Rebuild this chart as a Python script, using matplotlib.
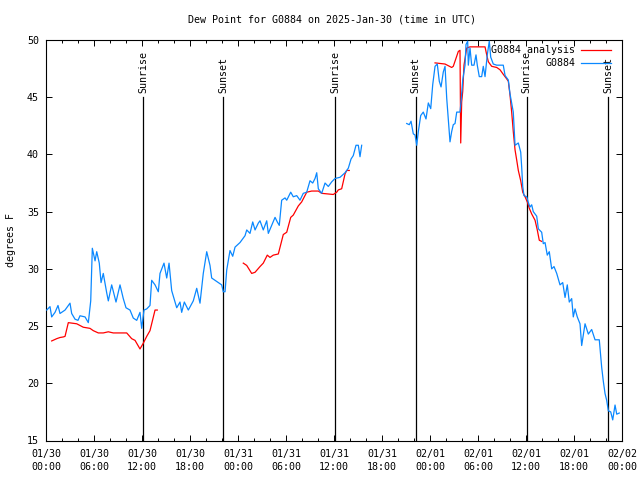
import numpy as np
import matplotlib
matplotlib.use("Agg")
import matplotlib.pyplot as plt
from matplotlib.ticker import MultipleLocator

nan = np.nan

# hours since 2025-01-30 00:00 UTC, dew point (F)
obs_hours = [
    0.09, 0.5, 0.71, 1.13, 1.5, 1.75, 2.38, 3.0, 3.21, 3.63, 4.0, 4.25, 4.88, 5.29, 5.59, 5.79,
    6.13, 6.34, 6.66, 6.88, 7.16, 7.59, 7.79, 8.21, 8.75, 9.25, 9.66, 10.0, 10.5, 10.91, 11.34,
    11.75, 11.96, 12.25, 12.59, 13.0, 13.21, 13.63, 14.04, 14.25, 14.75, 15.09, 15.38, 15.71,
    16.34, 16.75, 16.96, 17.29, 17.79, 18.41, 18.84, 19.25, 19.66, 20.09, 20.5, 20.71, 21.54,
    21.96, 22.16, 22.38, 22.59, 23.0, 23.34, 23.63, 24.25, 24.88, 25.09, 25.5, 25.84, 26.13,
    26.54, 26.75, 27.16, 27.59, 27.79, 28.21, 28.63, 28.91, 29.16, 29.46, 29.88, 30.09, 30.59,
    30.91, 31.34, 31.75, 32.16, 32.59, 33.0, 33.34, 33.63, 33.84, 34.04, 34.46, 34.88, 35.29,
    35.71, 36.13, 36.75, 37.38, 37.79, 38.13, 38.41, 38.75, 39.04, 39.25, 39.46,
    42.0,
    45.09, 45.41, 45.63, 45.91, 46.13, 46.34, 46.54, 46.84, 47.16, 47.5, 47.79, 48.09, 48.34,
    48.63, 48.91, 49.16, 49.38, 49.66, 49.88, 50.09, 50.29, 50.5, 50.71, 50.91, 51.13, 51.34,
    51.75, 51.88, 52.09, 52.38, 52.5, 52.71, 52.79, 53.0, 53.21, 53.5, 53.75, 53.91, 54.16,
    54.46, 54.66, 54.88, 55.16, 55.41, 55.59, 55.91, 56.34, 57.16, 57.38, 57.79, 58.0, 58.41,
    58.63, 59.04, 59.34, 59.46, 59.59, 59.75, 60.09, 60.29, 60.5, 60.71, 60.91, 61.34, 61.54,
    61.96, 62.16, 62.38, 62.66, 62.91, 63.21, 63.5, 63.84, 64.25, 64.59, 64.88, 65.16, 65.41,
    65.71, 65.91, 66.13, 66.41, 66.75, 66.96, 67.38, 67.79, 68.21, 68.63, 69.16, 69.46, 69.66,
    69.88, 70.09, 70.29, 70.59, 70.84, 71.13, 71.34, 71.66,
]
obs_dewpt = [
    26.4, 26.7, 25.8, 26.2, 26.8, 26.1, 26.4, 27.0, 26.1, 25.6, 25.5, 25.9, 25.8, 25.3, 27.2, 31.8,
    30.7, 31.5, 30.5, 28.8, 29.6, 27.9, 27.2, 28.6, 27.1, 28.6, 27.4, 26.6, 26.4, 25.7, 25.5,
    26.2, 24.8, 26.4, 26.5, 26.8, 29.0, 28.6, 28.0, 29.6, 30.5, 29.2, 30.5, 28.1,
    26.6, 27.1, 26.2, 27.1, 26.4, 27.2, 28.3, 27.0, 29.6, 31.5, 30.3, 29.2, 28.8,
    28.6, 28.0, 28.0, 29.9, 31.6, 31.1, 31.9, 32.3, 32.9, 33.4, 33.1, 34.1, 33.4,
    34.0, 34.2, 33.4, 34.2, 33.1, 33.8, 34.5, 34.1, 33.8, 36.0, 36.2, 36.0, 36.7,
    36.3, 36.4, 36.0, 36.6, 36.7, 37.7, 37.5, 37.9, 38.4, 37.0, 36.6, 37.5, 37.2,
    37.6, 37.9, 38.0, 38.4, 38.8, 39.6, 39.9, 40.8, 40.8, 39.8, 40.8,
    nan,
    42.7, 42.6, 42.9, 41.8, 41.7, 40.8, 42.0, 43.4, 43.7, 43.1, 44.5, 44.0, 46.1,
    47.7, 47.9, 46.4, 45.9, 47.2, 47.7, 44.9, 43.1, 41.1, 42.0, 42.6, 42.7, 43.7,
    43.7, 44.6, 46.5, 47.8, 49.6, 49.9, 47.8, 49.3, 47.8, 47.8, 48.7, 47.8, 46.8,
    46.8, 47.7, 46.8, 48.7, 49.9, 48.5, 47.9, 47.8, 47.8, 46.9, 46.5, 45.3, 43.7,
    40.8, 41.0, 40.2, 38.9, 37.2, 36.4, 36.3, 35.8, 35.4, 35.6, 35.0, 34.6, 33.5,
    33.2, 32.2, 32.3, 31.2, 31.5, 30.0, 30.2, 29.6, 28.6, 28.8, 27.5, 28.6, 27.1,
    27.4, 25.8, 26.5, 25.8, 25.2, 23.3, 25.2, 24.3, 24.7, 23.8, 23.8, 21.4, 20.2,
    19.1, 18.5, 17.6, 17.5, 16.8, 18.1, 17.3, 17.4,
]

ana_hours = [
    0.71, 1.34, 1.75, 2.16, 2.38, 2.79, 3.84, 4.66, 5.5, 5.91, 6.54, 7.16, 7.79, 8.41, 10.09,
    10.71, 11.13, 11.75, 12.16, 12.59, 13.0, 13.63, 13.91,
    19.0,
    24.66, 25.09, 25.71, 26.13, 26.75, 27.16, 27.66, 28.0, 28.41, 29.04, 29.66, 30.09, 30.59,
    30.91, 31.54, 31.96, 32.59, 33.21, 34.04, 34.46, 35.91, 36.34, 36.54, 36.96, 37.38, 37.59,
    37.91,
    43.0,
    48.63, 49.88, 50.71, 50.91, 51.54, 51.75, 51.84, 51.96, 52.09, 52.25, 52.59, 53.0, 54.88,
    55.09, 55.29, 55.71, 56.34, 56.75, 57.16, 57.59, 57.79, 58.0, 58.21, 58.41, 58.63, 58.84,
    59.04, 59.34, 59.59, 59.88, 60.16, 60.41, 60.71, 61.13, 61.41, 61.66, 61.96,
]
ana_dewpt = [
    23.7, 23.9, 24.0, 24.05, 24.1, 25.3, 25.2, 24.9, 24.8, 24.6, 24.4, 24.4, 24.5, 24.4, 24.4,
    23.9, 23.75, 23.0, 23.5, 24.1, 24.6, 26.4, 26.4,
    nan,
    30.5, 30.3, 29.6, 29.7, 30.2, 30.5, 31.2, 31.0, 31.2, 31.3, 33.0, 33.2, 34.5,
    34.7, 35.5, 35.85, 36.7, 36.8, 36.8, 36.6, 36.5, 36.7, 36.9, 37.0, 38.3, 38.6,
    38.6,
    nan,
    48.0, 47.9, 47.6, 47.7, 49.0, 49.1, 41.0, 44.6, 45.5, 47.8, 49.3, 49.4, 49.4,
    48.7, 48.1, 47.7, 47.6, 47.4, 47.0, 46.6, 46.4, 45.2, 43.7, 42.0, 40.4, 39.5,
    38.6, 37.7, 36.7, 36.3, 35.85, 35.3, 34.8, 34.25, 33.4, 32.5, 32.4,
]

sun_hours = [12.15, 22.17, 36.13, 46.22, 60.1, 70.24]
sun_labels = ["Sunrise", "Sunset", "Sunrise", "Sunset", "Sunrise", "Sunset"]

tick_hours = [0, 6, 12, 18, 24, 30, 36, 42, 48, 54, 60, 66, 72]
tick_labels = ["01/30\n00:00", "01/30\n06:00", "01/30\n12:00", "01/30\n18:00",
               "01/31\n00:00", "01/31\n06:00", "01/31\n12:00", "01/31\n18:00",
               "02/01\n00:00", "02/01\n06:00", "02/01\n12:00", "02/01\n18:00",
               "02/02\n00:00"]

plt.rcParams['font.family'] = ['DejaVu Sans Mono']
FS = 7.2

fig = plt.figure(figsize=(6.4, 4.8), dpi=100)
ax = fig.add_axes([46 / 640, 1 - 440.5 / 480, 576 / 640, 400.5 / 480])

ax.plot(ana_hours, ana_dewpt, color='#ff0000', lw=0.9, label='G0884 analysis', zorder=3)
ax.plot(obs_hours, obs_dewpt, color='#0a88ff', lw=0.9, label='G0884', zorder=3)

for h, lab in zip(sun_hours, sun_labels):
    ax.plot([h, h], [15, 45], color='black', lw=0.9, zorder=2)
    ax.text(h, 45.4, lab, rotation=90, ha='center', va='bottom', fontsize=FS, zorder=4)

ax.set_xlim(0, 72)
ax.set_ylim(15, 50)
ax.set_xticks(tick_hours)
ax.set_xticklabels(tick_labels, fontsize=FS, linespacing=1.35)
ax.xaxis.set_minor_locator(MultipleLocator(2))
ax.set_yticks(np.arange(15, 51, 5))
ax.tick_params(axis='both', which='both', direction='in', top=True, right=True,
               labelsize=FS, width=0.7)
ax.tick_params(axis='both', which='major', length=4)
ax.tick_params(axis='both', which='minor', length=2.2)
ax.tick_params(axis='x', which='major', pad=6)
ax.tick_params(axis='y', which='major', pad=5)
for s in ax.spines.values():
    s.set_linewidth(0.8)

ax.set_ylabel('degrees F', fontsize=FS, labelpad=8)
fig.text(332 / 640, 1 - 20 / 480, 'Dew Point for G0884 on 2025-Jan-30 (time in UTC)',
         ha='center', va='center', fontsize=FS)

# gnuplot-style legend (right-justified text, sample line to the right)
handles, labels = ax.get_legend_handles_labels()
rows_y = [(440.5 - 50) / 400.5, (440.5 - 62.5) / 400.5]
for (hnd, lab), yy in zip(zip(handles, labels), rows_y):
    ax.text((575 - 46) / 576, yy, lab, transform=ax.transAxes, ha='right', va='center',
            fontsize=FS, zorder=5)
    ax.plot([(581 - 46) / 576, (611 - 46) / 576], [yy, yy], transform=ax.transAxes,
            color=hnd.get_color(), lw=0.9, zorder=5)

fig.savefig('out.png', dpi=100)
